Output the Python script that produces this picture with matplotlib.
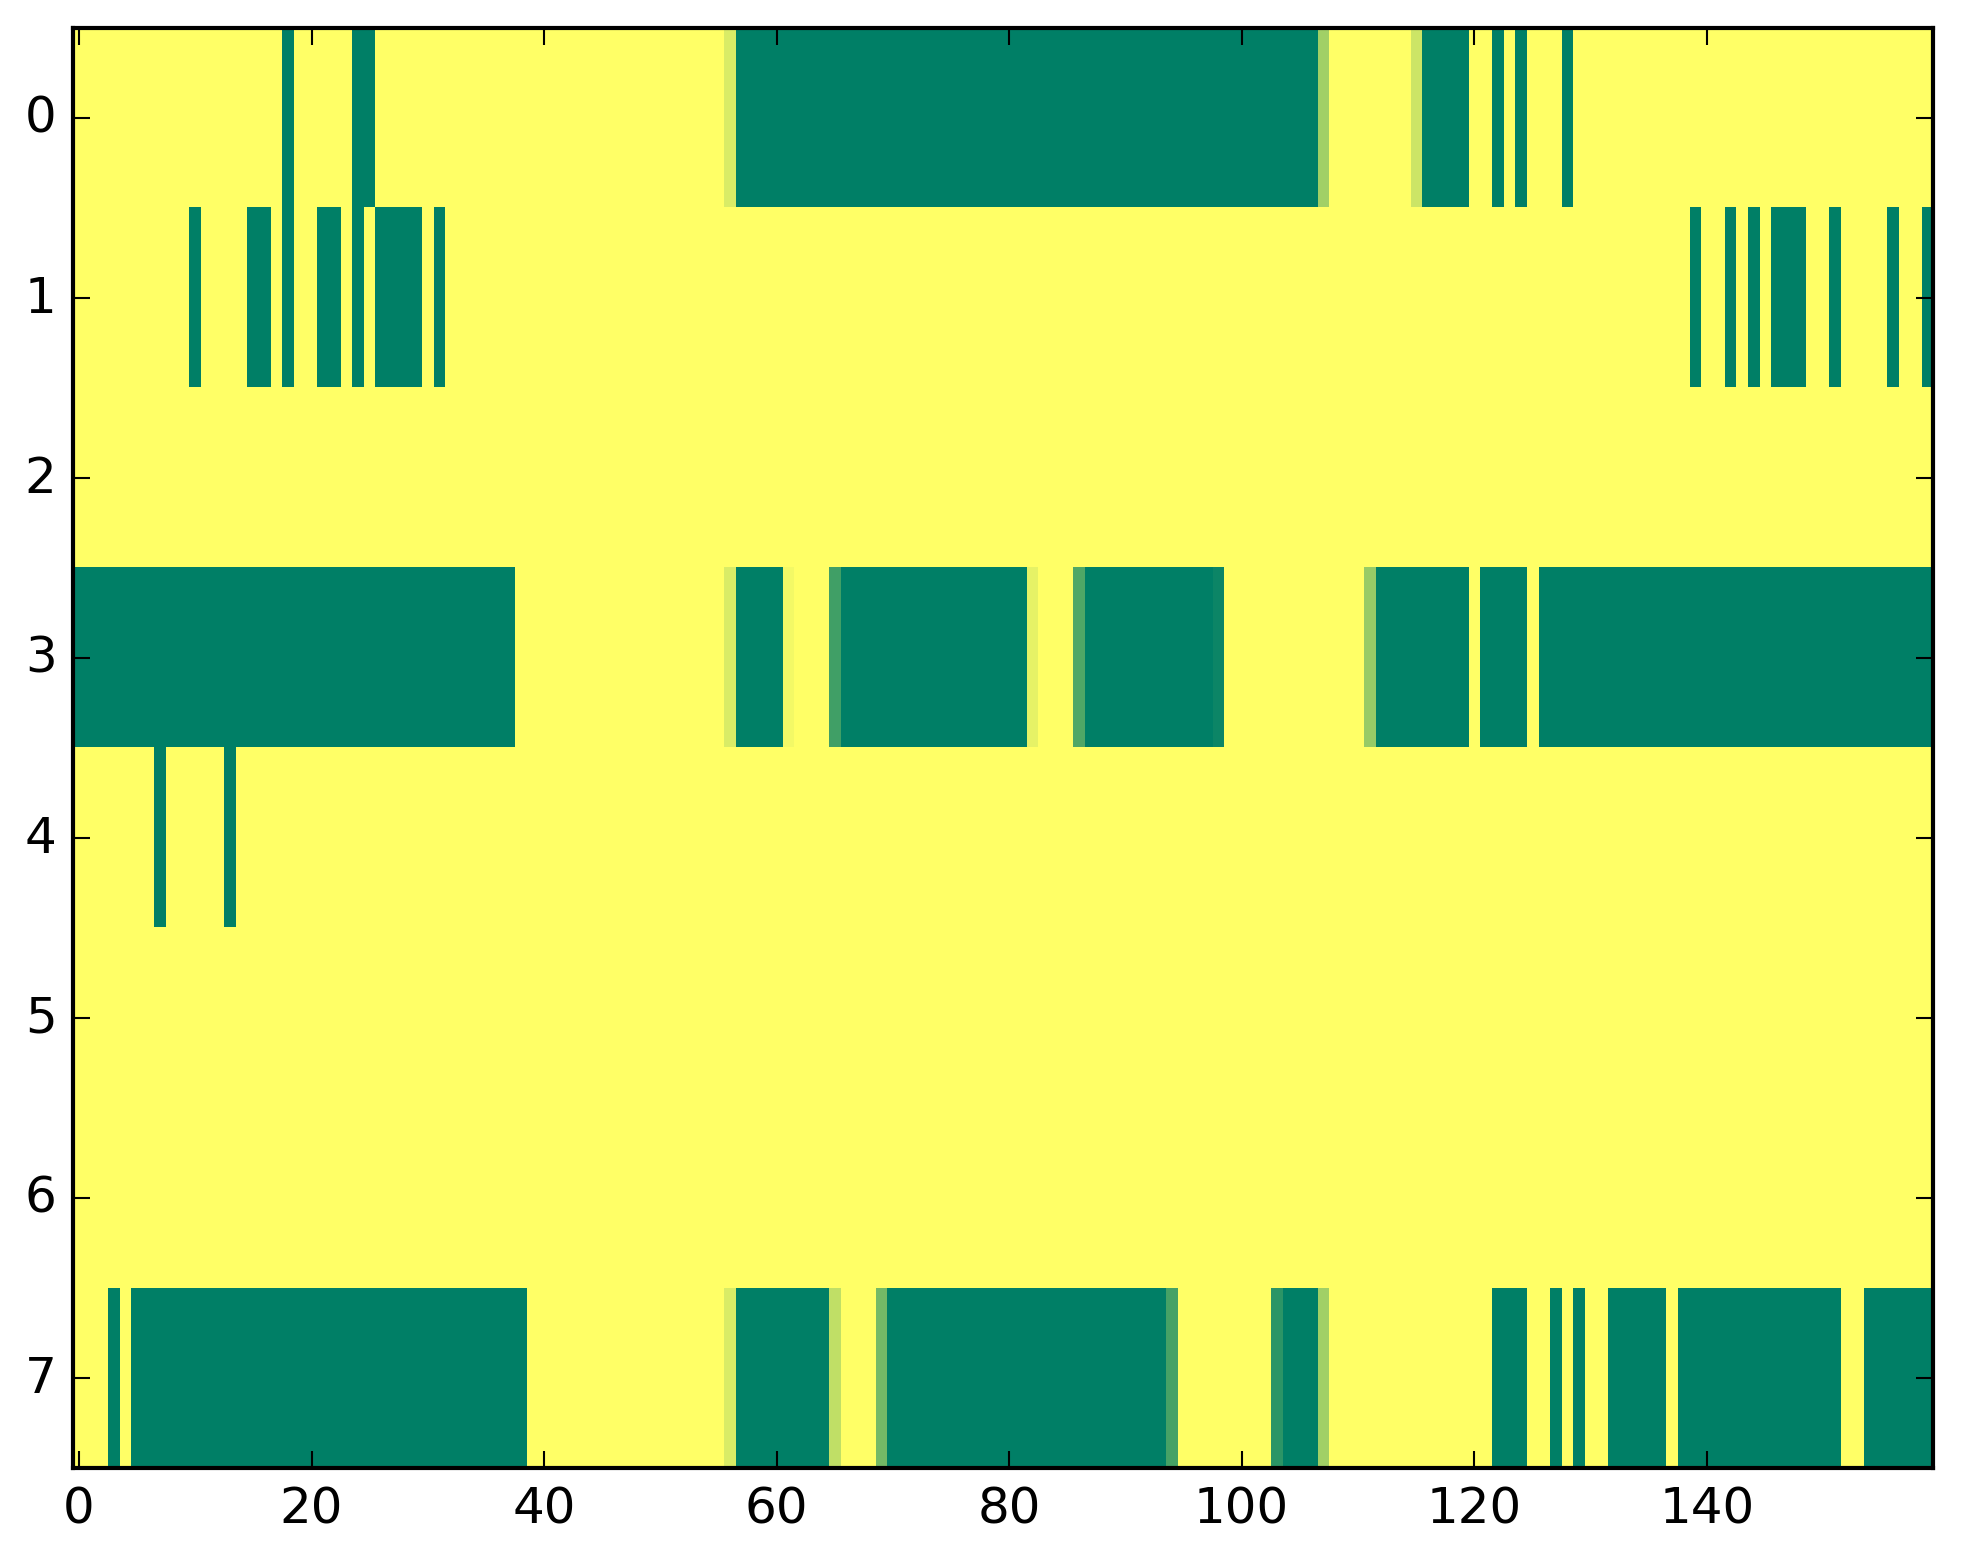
import matplotlib
matplotlib.use("Agg")
import matplotlib.pyplot as plt
import numpy as np

plt.style.use("classic")

row_labels = [0, 1, 2, 3, 4, 5, 6, 7]
x_ticks = [0, 20, 40, 60, 80, 100, 120, 140]

row0 = [
    1, 1, 1, 1, 1, 1, 1, 1, 1, 1, 1, 1, 1, 1, 1, 1, 1, 1, 0, 1,
    1, 1, 1, 1, 0, 0, 1, 1, 1, 1, 1, 1, 1, 1, 1, 1, 1, 1, 1, 1,
    1, 1, 1, 1, 1, 1, 1, 1, 1, 1, 1, 1, 1, 1, 1, 1, .85, 0, 0, 0,
    0, 0, 0, 0, 0, 0, 0, 0, 0, 0, 0, 0, 0, 0, 0, 0, 0, 0, 0, 0,
    0, 0, 0, 0, 0, 0, 0, 0, 0, 0, 0, 0, 0, 0, 0, 0, 0, 0, 0, 0,
    0, 0, 0, 0, 0, 0, 0, .63, 1, 1, 1, 1, 1, 1, 1, .8, 0, 0, 0, 0,
    1, 1, 0, 1, 0, 1, 1, 1, 0, 1, 1, 1, 1, 1, 1, 1, 1, 1, 1, 1,
    1, 1, 1, 1, 1, 1, 1, 1, 1, 1, 1, 1, 1, 1, 1, 1, 1, 1, 1, 1,
]
row1 = [
    1, 1, 1, 1, 1, 1, 1, 1, 1, 1, 0, 1, 1, 1, 1, 0, 0, 1, 0, 1,
    1, 0, 0, 1, 0, 1, 0, 0, 0, 0, 1, 0, 1, 1, 1, 1, 1, 1, 1, 1,
    1, 1, 1, 1, 1, 1, 1, 1, 1, 1, 1, 1, 1, 1, 1, 1, 1, 1, 1, 1,
    1, 1, 1, 1, 1, 1, 1, 1, 1, 1, 1, 1, 1, 1, 1, 1, 1, 1, 1, 1,
    1, 1, 1, 1, 1, 1, 1, 1, 1, 1, 1, 1, 1, 1, 1, 1, 1, 1, 1, 1,
    1, 1, 1, 1, 1, 1, 1, 1, 1, 1, 1, 1, 1, 1, 1, 1, 1, 1, 1, 1,
    1, 1, 1, 1, 1, 1, 1, 1, 1, 1, 1, 1, 1, 1, 1, 1, 1, 1, 1, 0,
    1, 1, 0, 1, 0, 1, 0, 0, 0, 1, 1, 0, 1, 1, 1, 1, 0, 1, 1, 0,
]
row2 = [
    1, 1, 1, 1, 1, 1, 1, 1, 1, 1, 1, 1, 1, 1, 1, 1, 1, 1, 1, 1,
    1, 1, 1, 1, 1, 1, 1, 1, 1, 1, 1, 1, 1, 1, 1, 1, 1, 1, 1, 1,
    1, 1, 1, 1, 1, 1, 1, 1, 1, 1, 1, 1, 1, 1, 1, 1, 1, 1, 1, 1,
    1, 1, 1, 1, 1, 1, 1, 1, 1, 1, 1, 1, 1, 1, 1, 1, 1, 1, 1, 1,
    1, 1, 1, 1, 1, 1, 1, 1, 1, 1, 1, 1, 1, 1, 1, 1, 1, 1, 1, 1,
    1, 1, 1, 1, 1, 1, 1, 1, 1, 1, 1, 1, 1, 1, 1, 1, 1, 1, 1, 1,
    1, 1, 1, 1, 1, 1, 1, 1, 1, 1, 1, 1, 1, 1, 1, 1, 1, 1, 1, 1,
    1, 1, 1, 1, 1, 1, 1, 1, 1, 1, 1, 1, 1, 1, 1, 1, 1, 1, 1, 1,
]
row3 = [
    0, 0, 0, 0, 0, 0, 0, 0, 0, 0, 0, 0, 0, 0, 0, 0, 0, 0, 0, 0,
    0, 0, 0, 0, 0, 0, 0, 0, 0, 0, 0, 0, 0, 0, 0, 0, 0, 0, 1, 1,
    1, 1, 1, 1, 1, 1, 1, 1, 1, 1, 1, 1, 1, 1, 1, 1, .85, 0, 0, 0,
    0, .95, 1, 1, 1, .25, 0, 0, 0, 0, 0, 0, 0, 0, 0, 0, 0, 0, 0, 0,
    0, 0, .9, 1, 1, 1, .31, 0, 0, 0, 0, 0, 0, 0, 0, 0, 0, 0, .05, 1,
    1, 1, 1, 1, 1, 1, 1, 1, 1, 1, 1, .59, 0, 0, 0, 0, 0, 0, 0, 0,
    1, 0, 0, 0, 0, 1, 0, 0, 0, 0, 0, 0, 0, 0, 0, 0, 0, 0, 0, 0,
    0, 0, 0, 0, 0, 0, 0, 0, 0, 0, 0, 0, 0, 0, 0, 0, 0, 0, 0, 0,
]
row4 = [
    1, 1, 1, 1, 1, 1, 1, 0, 1, 1, 1, 1, 1, 0, 1, 1, 1, 1, 1, 1,
    1, 1, 1, 1, 1, 1, 1, 1, 1, 1, 1, 1, 1, 1, 1, 1, 1, 1, 1, 1,
    1, 1, 1, 1, 1, 1, 1, 1, 1, 1, 1, 1, 1, 1, 1, 1, 1, 1, 1, 1,
    1, 1, 1, 1, 1, 1, 1, 1, 1, 1, 1, 1, 1, 1, 1, 1, 1, 1, 1, 1,
    1, 1, 1, 1, 1, 1, 1, 1, 1, 1, 1, 1, 1, 1, 1, 1, 1, 1, 1, 1,
    1, 1, 1, 1, 1, 1, 1, 1, 1, 1, 1, 1, 1, 1, 1, 1, 1, 1, 1, 1,
    1, 1, 1, 1, 1, 1, 1, 1, 1, 1, 1, 1, 1, 1, 1, 1, 1, 1, 1, 1,
    1, 1, 1, 1, 1, 1, 1, 1, 1, 1, 1, 1, 1, 1, 1, 1, 1, 1, 1, 1,
]
row5 = list(row2)
row6 = list(row2)
row7 = [
    1, 1, 1, 0, 1, 0, 0, 0, 0, 0, 0, 0, 0, 0, 0, 0, 0, 0, 0, 0,
    0, 0, 0, 0, 0, 0, 0, 0, 0, 0, 0, 0, 0, 0, 0, 0, 0, 0, 0, 1,
    1, 1, 1, 1, 1, 1, 1, 1, 1, 1, 1, 1, 1, 1, 1, 1, .85, 0, 0, 0,
    0, 0, 0, 0, 0, .75, 1, 1, 1, .45, 0, 0, 0, 0, 0, 0, 0, 0, 0, 0,
    0, 0, 0, 0, 0, 0, 0, 0, 0, 0, 0, 0, 0, 0, .27, 1, 1, 1, 1, 1,
    1, 1, 1, .17, 0, 0, 0, .63, 1, 1, 1, 1, 1, 1, 1, 1, 1, 1, 1, 1,
    1, 1, 0, 0, 0, 1, 1, 0, 1, 0, 1, 1, 0, 0, 0, 0, 0, 1, 0, 0,
    0, 0, 0, 0, 0, 0, 0, 0, 0, 0, 0, 0, 1, 1, 0, 0, 0, 0, 0, 0,
]

data = np.array([row0, row1, row2, row3, row4, row5, row6, row7], dtype=float)

W, H, DPI = 1963, 1564, 300
fig = plt.figure(figsize=(W / DPI, H / DPI), dpi=DPI, facecolor="white")
ax = fig.add_axes([73.2 / W, 95.0 / H, 1860.2 / W, 1440.3 / H])
ax.imshow(data, cmap="summer", aspect="auto", interpolation="nearest",
          vmin=0, vmax=1)
ax.set_xticks(x_ticks)
ax.set_yticks(row_labels)
ax.set_xlim(-0.5, data.shape[1] - 0.5)
ax.set_ylim(data.shape[0] - 0.5, -0.5)
fig.savefig("out.png", dpi=DPI, facecolor="white")
